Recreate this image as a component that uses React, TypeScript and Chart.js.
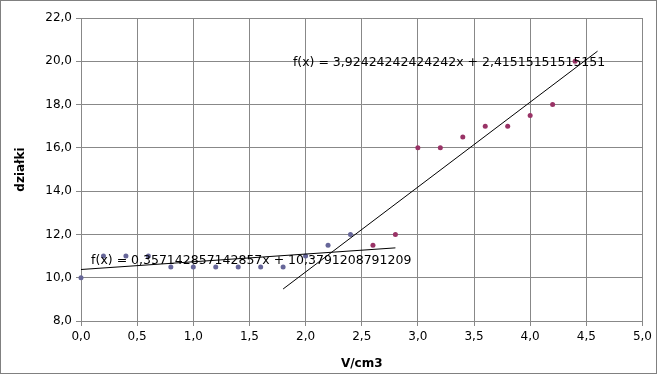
import React, { useEffect, useRef } from "react";
import { Chart, registerables } from "chart.js";
Chart.register(...registerables);

// Data
const xs1 = [0, 0.2, 0.4, 0.6, 0.8, 1.0, 1.2, 1.4, 1.6, 1.8, 2.0, 2.2, 2.4];
const ys1 = [10, 11, 11, 11, 10.5, 10.5, 10.5, 10.5, 10.5, 10.5, 11, 11.5, 12];
const xs2 = [2.6, 2.8, 3.0, 3.2, 3.4, 3.6, 3.8, 4.0, 4.2, 4.4];
const ys2 = [11.5, 12, 16, 16, 16.5, 17, 17, 17.5, 18, 20];
const trend1Range = [0, 2.8];
const trend2Range = [1.8, 4.6];
const eqLabels = [
  "f(x) = 0,357142857142857x + 10,3791208791209",
  "f(x) = 3,92424242424242x + 2,41515151515151",
];
const xTitle = "V/cm3";
const yTitle = "działki";

function fit(xs: number[], ys: number[]) {
  const n = xs.length;
  const mx = xs.reduce((a, b) => a + b, 0) / n;
  const my = ys.reduce((a, b) => a + b, 0) / n;
  let sxy = 0, sxx = 0;
  for (let i = 0; i < n; i++) {
    sxy += (xs[i] - mx) * (ys[i] - my);
    sxx += (xs[i] - mx) * (xs[i] - mx);
  }
  const m = sxy / sxx;
  return { m, b: my - m * mx };
}

const fmt = (v: number) => v.toFixed(1).replace(".", ",");

export default function App() {
  const ref = useRef<HTMLCanvasElement>(null);
  useEffect(() => {
    document.body.style.margin = "0";
    const f1 = fit(xs1, ys1);
    const f2 = fit(xs2, ys2);
    const t1 = trend1Range.map((x) => ({ x, y: f1.m * x + f1.b }));
    const t2 = trend2Range.map((x) => ({ x, y: f2.m * x + f2.b }));
    const labelPlugin = {
      id: "eqLabels",
      afterDatasetsDraw(chart: any) {
        const { ctx, scales } = chart;
        ctx.save();
        ctx.font = "12.5px 'DejaVu Sans'";
        ctx.fillStyle = "#000";
        ctx.textBaseline = "middle";
        ctx.textAlign = "left";
        ctx.fillText(eqLabels[0], scales.x.getPixelForValue(0.09), scales.y.getPixelForValue(10.77));
        ctx.fillText(eqLabels[1], scales.x.getPixelForValue(1.887), scales.y.getPixelForValue(19.92));
        ctx.restore();
      },
    };
    const grid = "#888888";
    const chart = new Chart(ref.current!, {
      type: "scatter",
      data: {
        datasets: [
          {
            data: t1,
            showLine: true,
            borderColor: "#000",
            borderWidth: 1,
            pointRadius: 0,
          },
          {
            data: t2,
            showLine: true,
            borderColor: "#000",
            borderWidth: 1,
            pointRadius: 0,
          },
          {
            data: xs1.map((x, i) => ({ x, y: ys1[i] })),
            backgroundColor: "#666699",
            borderColor: "#666699",
            pointRadius: 2.5,
            pointBorderWidth: 0,
            clip: false as any,
          },
          {
            data: xs2.map((x, i) => ({ x, y: ys2[i] })),
            backgroundColor: "#993366",
            borderColor: "#993366",
            pointRadius: 2.5,
            pointBorderWidth: 0,
            clip: false as any,
          },
        ],
      },
      options: {
        animation: false,
        responsive: false,
        layout: { padding: { left: 0, top: 17, right: 13, bottom: 0 } },
        plugins: { legend: { display: false }, tooltip: { enabled: false } },
        scales: {
          x: {
            type: "linear",
            min: 0,
            max: 5,
            ticks: {
              stepSize: 0.5,
              callback: (v: any) => fmt(Number(v)),
              color: "#000",
              font: { family: "'DejaVu Sans'", size: 12 },
              padding: 4,
              maxRotation: 0,
            },
            grid: { color: grid, tickLength: 5 },
            border: { color: grid },
            title: {
              display: true,
              text: xTitle,
              color: "#000",
              font: { family: "'DejaVu Sans'", size: 12, weight: "bold" },
              padding: { top: 0, bottom: 2 },
            },
            afterFit: (s: any) => {
              s.height = 52;
            },
          },
          y: {
            type: "linear",
            min: 8,
            max: 22,
            ticks: {
              stepSize: 2,
              callback: (v: any) => fmt(Number(v)),
              color: "#000",
              font: { family: "'DejaVu Sans'", size: 12 },
              padding: 4,
            },
            grid: { color: grid, tickLength: 5 },
            border: { color: grid },
            title: {
              display: true,
              text: yTitle,
              color: "#000",
              font: { family: "'DejaVu Sans'", size: 12, weight: "bold" },
              padding: { top: 13, bottom: 0 },
            },
            afterFit: (s: any) => {
              s.width = 80;
            },
          },
        },
      } as any,
      plugins: [labelPlugin],
    });
    return () => chart.destroy();
  }, []);
  return (
    <div
      style={{
        width: 657,
        height: 374,
        boxSizing: "border-box",
        border: "1px solid #808080",
        background: "#fff",
      }}
    >
      <canvas ref={ref} width={655} height={372} style={{ display: "block" }} />
    </div>
  );
}
